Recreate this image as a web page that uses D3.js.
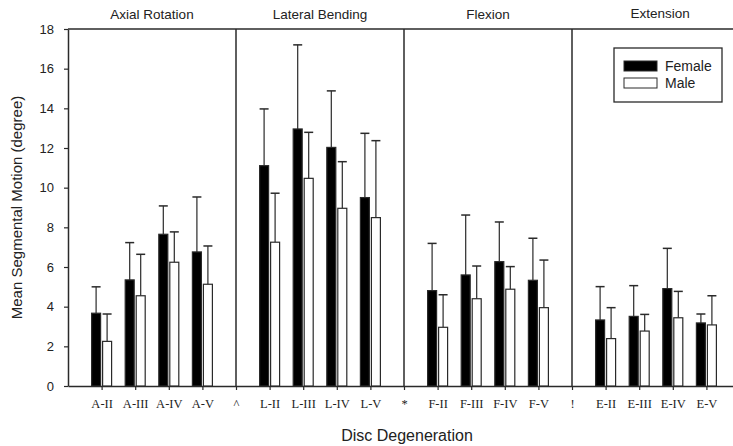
<!DOCTYPE html>
<html><head><meta charset="utf-8">
<script src="https://cdn.jsdelivr.net/npm/d3@7"></script>
<style>body{margin:0;background:#fff}</style>
</head><body>
<svg id="c" width="733" height="446"></svg>
<script>
const categories = ["A-II","A-III","A-IV","A-V","^","L-II","L-III","L-IV","L-V","*","F-II","F-III","F-IV","F-V","!","E-II","E-III","E-IV","E-V"];
const panelTitles = ["Axial Rotation","Lateral Bending","Flexion","Extension"];
const separators = ["^","*","!"];
const femaleMean = [3.67,5.35,7.65,6.76,null,11.11,12.96,12.03,9.5,null,4.81,5.6,6.27,5.33,null,3.33,3.51,4.91,3.18];
const femaleErr  = [5.0,7.23,9.08,9.53,null,13.97,17.2,14.88,12.74,null,7.19,8.62,8.27,7.45,null,5.01,5.06,6.94,3.63];
const maleMean   = [2.25,4.55,6.24,5.13,null,7.25,10.47,8.96,8.49,null,2.96,4.4,4.88,3.95,null,2.39,2.77,3.44,3.08];
const maleErr    = [3.63,6.64,7.77,7.06,null,9.72,12.79,11.31,12.37,null,4.6,6.05,6.02,6.35,null,3.95,3.61,4.77,4.55];
const yTicks = [0,2,4,6,8,10,12,14,16,18];

(function(){
const svg = d3.select("#c");
const mLeft = 68, mTop = 29, mBottom = 386;
const x = d3.scaleLinear().domain([-1, 19]).range([mLeft, 740]);
const y = d3.scaleLinear().domain([0, 18]).range([mBottom, mTop]);
const ink = "#2a2a2a";
const sans = "Liberation Sans, Arial, sans-serif";

const ya = svg.append("g").attr("transform",`translate(${mLeft},0)`)
  .call(d3.axisLeft(y).tickValues(yTicks).tickSize(4).tickSizeOuter(0));
ya.select(".domain").attr("stroke", ink).attr("stroke-width",1.5);
ya.selectAll(".tick line").attr("stroke", ink).attr("stroke-width",1.2);
ya.selectAll(".tick text").attr("font-family",sans).attr("font-size",13).attr("fill","#222").attr("x",-14);

const xa = svg.append("g").attr("transform",`translate(0,${mBottom})`)
  .call(d3.axisBottom(x).tickValues(d3.range(categories.length)).tickFormat(i=>categories[i]).tickSize(4).tickSizeOuter(0));
xa.select(".domain").attr("stroke", ink).attr("stroke-width",1.5);
xa.selectAll(".tick line").attr("stroke", ink).attr("stroke-width",1.2);
xa.selectAll(".tick text").attr("font-family","Liberation Serif, Times New Roman, serif").attr("font-size",12.5).attr("fill","#222").attr("dy","1.2em");

svg.append("line").attr("x1",mLeft).attr("x2",733).attr("y1",mTop).attr("y2",mTop).attr("stroke",ink).attr("stroke-width",1.5);

separators.forEach(s=>{
  const i = categories.indexOf(s);
  svg.append("line").attr("x1",x(i)).attr("x2",x(i)).attr("y1",mTop).attr("y2",mBottom).attr("stroke",ink).attr("stroke-width",1.5);
});

const bounds = [-1, 4, 9, 14, 19.6];
panelTitles.forEach((t,k)=>{
  svg.append("text").attr("x",(x(bounds[k])+x(bounds[k+1]))/2 + (k===3?-6:0)).attr("y",k===3?18:19)
    .attr("text-anchor","middle").attr("font-family",sans).attr("font-size",13.5).attr("fill","#222").text(t);
});

const bw = 9;
function drawSeries(mean, err, offset, fill){
  const g = svg.append("g");
  mean.forEach((v,i)=>{
    if (v==null) return;
    const x0 = x(i) + offset;
    const cx = x0 + bw/2;
    g.append("line").attr("x1",cx).attr("x2",cx).attr("y1",y(err[i])).attr("y2",y(v)).attr("stroke",ink).attr("stroke-width",1.2);
    g.append("line").attr("x1",cx-4.5).attr("x2",cx+4.5).attr("y1",y(err[i])).attr("y2",y(err[i])).attr("stroke",ink).attr("stroke-width",1.5);
    g.append("rect").attr("x",x0).attr("y",y(v)).attr("width",bw).attr("height",y(0)-y(v))
      .attr("fill",fill).attr("stroke",ink).attr("stroke-width",1.2);
  });
}
drawSeries(femaleMean, femaleErr, -10, "#000");
drawSeries(maleMean, maleErr, 1, "#fff");

svg.append("text").attr("transform",`translate(22,${(mTop+mBottom)/2}) rotate(-90)`).attr("text-anchor","middle")
  .attr("font-family",sans).attr("font-size",15).attr("fill","#222").text("Mean Segmental Motion (degree)");
svg.append("text").attr("x",407).attr("y",441).attr("text-anchor","middle")
  .attr("font-family",sans).attr("font-size",16).attr("fill","#222").text("Disc Degeneration");

const lg = svg.append("g");
lg.append("rect").attr("x",614).attr("y",48).attr("width",108).attr("height",54).attr("fill","#fff").attr("stroke",ink).attr("stroke-width",1.3);
[["Female","#000",61],["Male","#fff",78]].forEach(([n,f,yy])=>{
  lg.append("rect").attr("x",624).attr("y",yy).attr("width",33).attr("height",10).attr("fill",f).attr("stroke",ink).attr("stroke-width",1);
  lg.append("text").attr("x",665).attr("y",yy+10).attr("font-family",sans).attr("font-size",14).attr("fill","#222").text(n);
});
})();
</script>
</body></html>
